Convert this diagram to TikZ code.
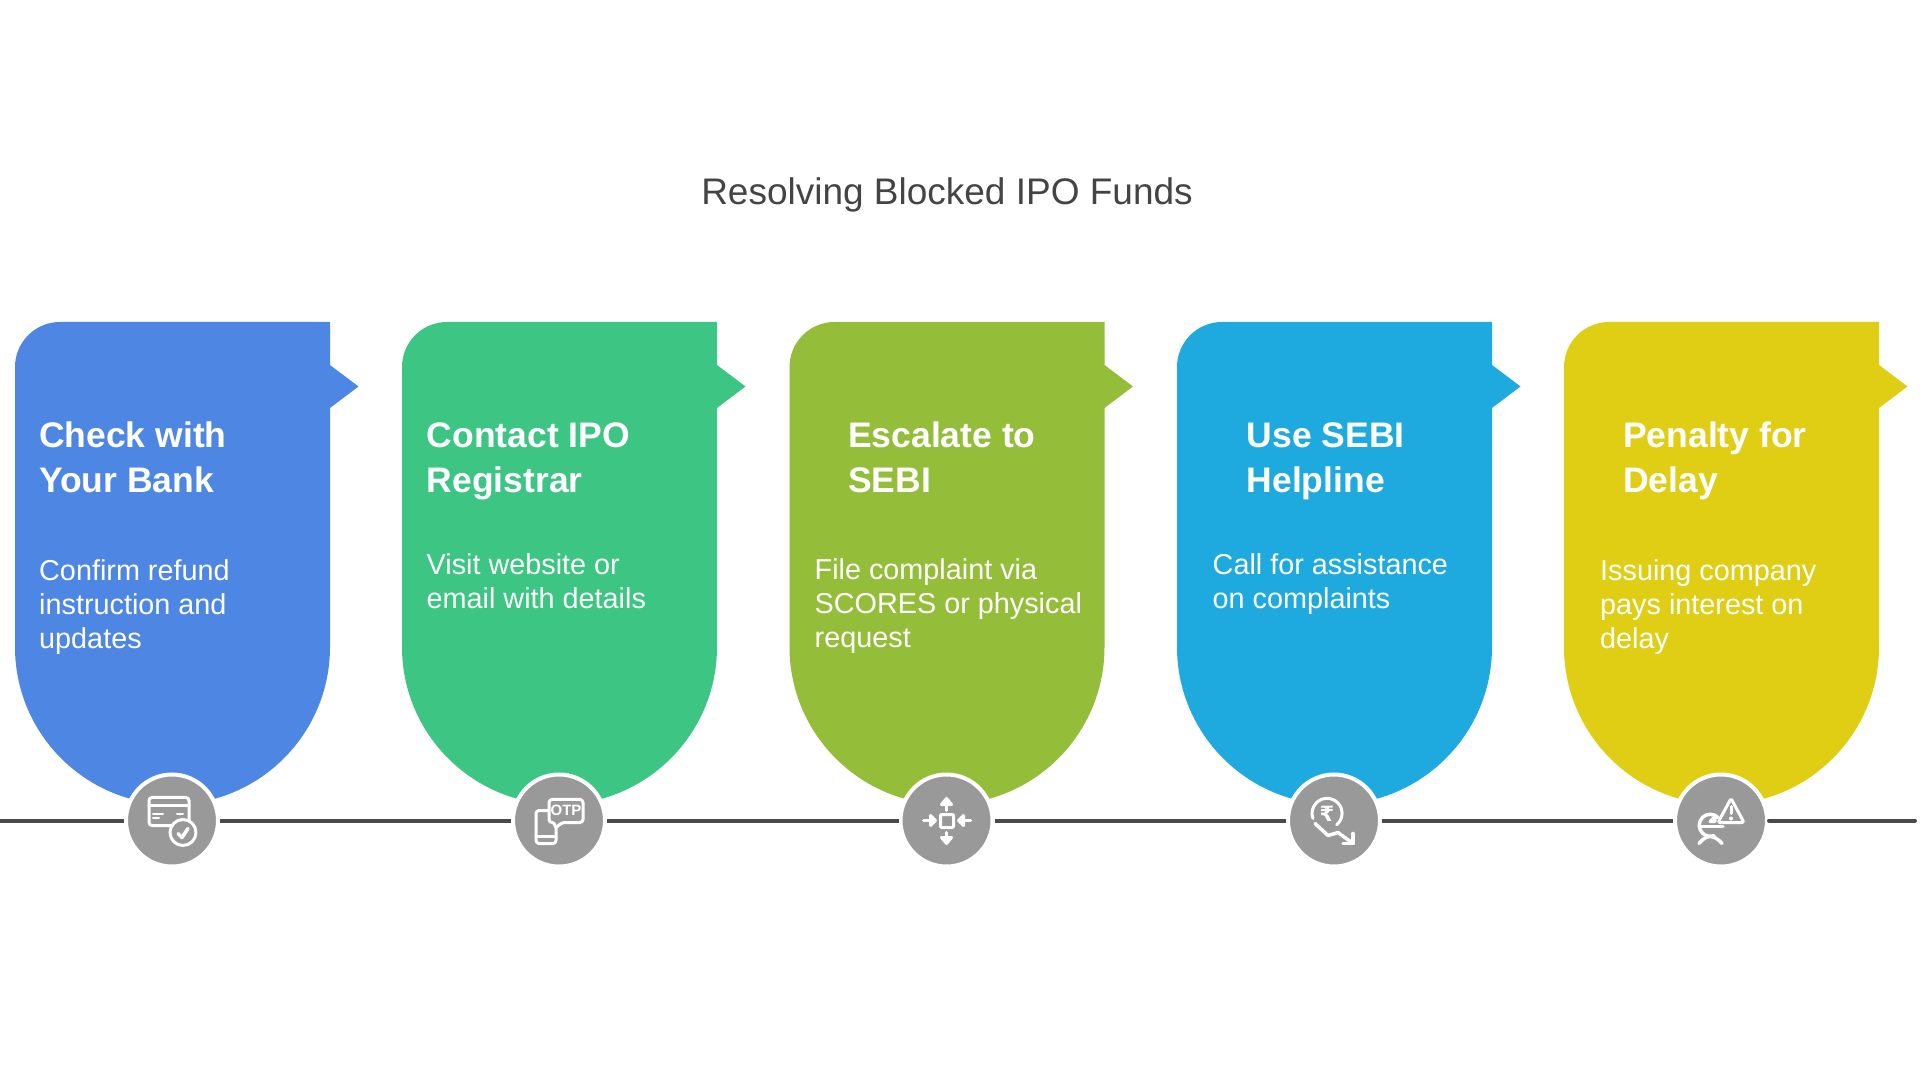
\documentclass[tikz,border=0pt]{standalone}
\usepackage{fontspec}
\setmainfont{Liberation Sans}
\newfontfamily\symbolfont{DejaVu Sans}
\definecolor{bankblue}{HTML}{4E86E4}
\definecolor{registrargreen}{HTML}{3CC583}
\definecolor{sebiolive}{HTML}{94BD3A}
\definecolor{helplinesky}{HTML}{1FAADF}
\definecolor{penaltyyellow}{HTML}{E0CE15}
\definecolor{markergray}{HTML}{999999}
\definecolor{linegray}{HTML}{4A4A4A}
\definecolor{titlegray}{HTML}{444444}
\tikzset{
  title/.style={text=titlegray, font=\fontsize{37}{44}\selectfont},
  heading/.style={anchor=west, align=left, inner sep=0pt, text=white, font=\bfseries\fontsize{35.5}{45}\selectfont},
  details/.style={anchor=west, align=left, inner sep=0pt, text=white, font=\fontsize{28.8}{34}\selectfont},
  marker/.style={circle, draw=white, fill=markergray, line width=4pt, minimum size=92pt, inner sep=0pt},
  timeline/.style={draw=linegray, line width=4pt},
  iconline/.style={draw=white, line width=3pt, line cap=round, line join=round}
}
% one bubble: #1 left edge, #2 colour
\newcommand{\bubble}[2]{
  \fill[#2] (#1,713) arc[start angle=180, end angle=90, radius=45]
    -- ++(270,0) -- ++(0,-43) -- ++(28.5,-21.5) -- ++(-28.5,-21.5)
    -- ++(0,-239) arc[start angle=0, end angle=-180, radius=157.5] -- cycle;
}
\begin{document}
\begin{tikzpicture}[x=1pt, y=1pt]
\useasboundingbox (0,0) rectangle (1920,1080);

\node[title] (title) at (947,885.5) {Resolving Blocked IPO Funds};

\bubble{15}{bankblue}
\bubble{402}{registrargreen}
\bubble{789.5}{sebiolive}
\bubble{1177}{helplinesky}
\bubble{1564}{penaltyyellow}

\node[heading] (bankhead) at (39,623) {Check with\\Your Bank};
\node[details] (banktext) at (39,473) {Confirm refund\\instruction and\\updates};
\node[heading] (registrarhead) at (426.5,619) {Contact IPO\\Registrar};
\node[details] (registrartext) at (426.5,498.5) {Visit website or\\email with details};
\node[heading] (sebihead) at (848,623) {Escalate to\\SEBI};
\node[details] (sebitext) at (814.5,473.5) {File complaint via\\SCORES or physical\\request};
\node[heading] (helplinehead) at (1246.5,619) {Use SEBI\\Helpline};
\node[details] (helplinetext) at (1212.5,496) {Call for assistance\\on complaints};
\node[heading] (penaltyhead) at (1623,619) {Penalty for\\Delay};
\node[details] (penaltytext) at (1600,473) {Issuing company\\pays interest on\\delay};

\coordinate (linestart) at (0,259.5);
\coordinate (lineend) at (1915,259.5);
\node[marker] (bankmark) at (172,259.5) {};
\node[marker] (registrarmark) at (559,259.5) {};
\node[marker] (sebimark) at (946.5,259.5) {};
\node[marker] (helplinemark) at (1334,259.5) {};
\node[marker] (penaltymark) at (1721,259.5) {};

\draw[timeline] (linestart) -- (bankmark);
\draw[timeline] (bankmark) -- (registrarmark);
\draw[timeline] (registrarmark) -- (sebimark);
\draw[timeline] (sebimark) -- (helplinemark);
\draw[timeline] (helplinemark) -- (penaltymark);
\draw[timeline, line cap=round] (penaltymark) -- (lineend);

% card with a tick
\begin{scope}[shift={(bankmark)}]
\draw[iconline, rounded corners=3pt] (-23,-5) rectangle (17,23);
\draw[iconline] (-23,15) -- (17,15);
\draw[iconline, line width=2pt] (-19,7) -- (-9,7);
\draw[iconline, line width=2pt] (-19,3) -- (-13,3);
\draw[iconline, line width=2pt] (5,7) -- (11,7);
\draw[iconline, fill=markergray] (11,-12) circle (13);
\draw[iconline, line width=3.5pt] (6,-13) -- (10,-17) -- (16,-8);
\end{scope}

% phone with an otp bubble
\begin{scope}[shift={(registrarmark)}]
\draw[iconline, rounded corners=3pt] (-23,-23) rectangle (-3,10);
\draw[iconline] (-23,-16) -- (-3,-16);
\draw[iconline, fill=markergray, rounded corners=3pt] (-10,21) -- (24,21) -- (24,-2) -- (3,-2) -- (-4,-8) -- (-4,-2) -- (-10,-2) -- cycle;
\node[text=white, inner sep=0pt, font=\bfseries\fontsize{15}{15}\selectfont] (otp) at (7,10) {OTP};
\end{scope}

% square with four arrows
\begin{scope}[shift={(sebimark)}]
\draw[iconline, rounded corners=1pt] (-6,-7) rectangle (7,6);
\draw[iconline] (0,10) -- (0,21);
\draw[iconline, fill=white] (-5,16) -- (0,22) -- (5,16) -- cycle;
\draw[iconline] (0,-12) -- (0,-22);
\draw[iconline, fill=white] (-5,-17) -- (0,-23) -- (5,-17) -- cycle;
\draw[iconline] (-23,0) -- (-12,0);
\draw[iconline, fill=white] (-16,5) -- (-11,0) -- (-16,-5) -- cycle;
\draw[iconline] (24,0) -- (13,0);
\draw[iconline, fill=white] (17,5) -- (12,0) -- (17,-5) -- cycle;
\end{scope}

% rupee coin and falling arrow
\begin{scope}[shift={(helplinemark)}]
\draw[iconline] (-21,2) arc[start angle=200, end angle=-50, radius=15];
\node[text=white, inner sep=0pt, font=\symbolfont\bfseries\fontsize{21}{21}\selectfont] (rupee) at (-7,7) {₹};
\draw[iconline, line width=3.5pt] (-19,-3) -- (-6,-15) -- (4,-12) -- (19,-23);
\draw[iconline, line width=3.5pt] (19,-13) -- (19,-23) -- (9,-23);
\end{scope}

% warning sign and person with a euro
\begin{scope}[shift={(penaltymark)}]
\draw[iconline, rounded corners=2pt] (10,22) -- (23,-2) -- (-3,-2) -- cycle;
\draw[iconline] (10,14) -- (10,7);
\fill[white] (10,2) circle (2);
\draw[iconline, line width=3.5pt] (-3,3) arc[start angle=45, end angle=290, radius=11];
\draw[iconline] (-22,-6) -- (2,-6);
\draw[iconline, fill=white] (-11,-1) -- (-6,4) -- (-6,-1) -- cycle;
\draw[iconline, line width=3.5pt] (-22,-23) .. controls (-18,-18) and (-14,-16) .. (-11,-16) .. controls (-8,-16) and (-3,-18) .. (1,-23);
\end{scope}
\end{tikzpicture}
\end{document}
